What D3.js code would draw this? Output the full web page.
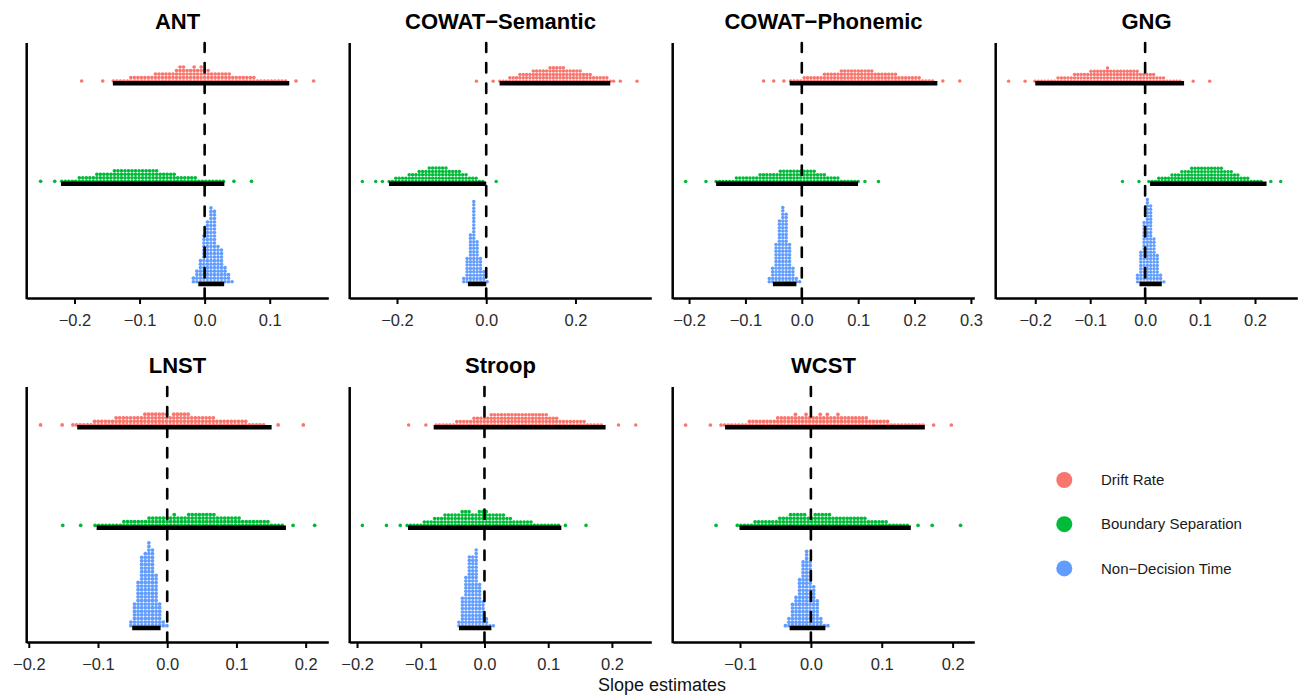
<!DOCTYPE html>
<html>
<head>
<meta charset="utf-8">
<script src="https://cdn.jsdelivr.net/npm/d3@7"></script>
<style>
  body { margin: 0; background: #fff; }
  svg { display: block; font-family: "Liberation Sans", Arial, Helvetica, sans-serif; }
</style>
</head>
<body>
<svg id="chart" width="1304" height="695"></svg>
<script>
const tasks = ["ANT", "COWAT\u2212Semantic", "COWAT\u2212Phonemic", "GNG", "LNST", "Stroop", "WCST"];
const params = ["Drift Rate", "Boundary Separation", "Non\u2212Decision Time"];
const paramColors = ["#F8766D", "#00BA38", "#619CFF"];

// x limits of each panel (free scales) and tick values
const xLimits = [[-0.2734, 0.190], [-0.306, 0.370], [-0.229, 0.306], [-0.272, 0.277],
                 [-0.203, 0.2327], [-0.2115, 0.2618], [-0.195, 0.2306]];
const xTicks = [[-0.2, -0.1, 0, 0.1], [-0.2, 0, 0.2], [-0.2, -0.1, 0, 0.1, 0.2, 0.3], [-0.2, -0.1, 0, 0.1, 0.2],
                [-0.2, -0.1, 0, 0.1, 0.2], [-0.2, -0.1, 0, 0.1, 0.2], [-0.1, 0, 0.1, 0.2]];

// dotplot binwidth per panel
const binWidths = [0.0054, 0.0075, 0.006, 0.006, 0.0052, 0.0054, 0.005];

// centre of first bin + dot counts per consecutive bin
const driftStart = [-0.189, -0.022, -0.0678, -0.2485, -0.183, -0.119, -0.1768];
const driftCounts = [
  [1,0,0,0,0,0,1,0,0,1,1,1,1,1,2,2,2,2,2,2,2,3,3,3,3,3,3,4,5,5,4,4,5,4,5,4,4,3,3,3,3,3,3,2,2,2,2,2,2,2,1,1,1,1,1,1,1,1,1,0,0,1,0,0,0,0,1],
  [1,0,0,0,0,1,0,1,1,1,2,2,2,3,3,3,3,4,4,4,4,4,5,5,5,5,5,4,4,4,4,4,3,3,3,2,2,2,2,2,1,1,0,1,0,0,0,0,1],
  [1,0,0,1,0,0,1,0,1,1,1,1,2,2,2,2,2,2,3,3,3,3,3,4,4,4,4,4,4,4,4,4,4,3,3,3,3,3,3,3,2,2,2,2,2,2,2,1,1,1,1,0,0,1,0,0,0,0,1],
  [1,0,0,0,0,1,0,0,1,1,1,1,1,1,1,2,2,2,2,2,3,3,3,3,3,4,4,4,4,4,5,4,4,4,4,4,4,4,4,4,3,3,3,3,3,2,2,2,1,1,1,1,1,0,0,0,1,0,0,0,0,1],
  [1,0,0,0,0,0,1,0,0,1,1,1,1,1,1,2,2,2,2,2,2,3,3,3,3,3,3,3,3,4,4,4,4,4,4,4,3,4,4,4,4,4,3,3,3,3,3,3,3,2,2,2,2,2,2,2,2,2,1,1,1,1,1,0,0,0,1,0,0,0,0,0,0,1],
  [1,0,0,0,0,1,0,0,1,1,1,1,1,1,2,2,2,2,2,3,3,3,3,3,4,4,4,4,4,4,4,4,4,4,4,4,4,4,4,4,4,3,3,3,2,2,2,2,2,2,2,2,1,1,1,1,1,0,0,0,0,1,0,0,0,0,1],
  [1,0,0,0,0,0,0,1,0,0,1,1,1,1,1,1,1,1,2,2,2,2,2,2,2,2,3,3,3,3,3,4,3,3,4,3,3,3,4,3,4,3,3,4,3,3,3,3,3,3,3,3,2,2,2,2,2,2,1,1,1,1,1,1,1,1,1,1,0,0,1,0,0,0,0,1]
];
const boundaryStart = [-0.252, -0.2777, -0.206, -0.0412, -0.151, -0.1916, -0.1338];
const boundaryCounts = [
  [1,0,0,0,1,0,1,1,1,1,1,2,2,2,2,2,3,3,3,3,3,4,4,4,4,4,4,4,4,4,4,4,4,4,3,3,3,3,3,2,2,2,2,2,2,1,1,1,1,1,1,1,1,0,0,1,0,0,0,0,1],
  [1,0,0,0,1,0,1,0,1,1,2,2,2,2,3,3,3,4,4,4,5,5,5,5,5,5,4,4,4,4,3,3,2,2,2,1,1,0,0,0,1],
  [1,0,0,0,0,0,1,0,0,1,1,1,1,1,1,2,2,2,2,2,2,2,3,3,3,3,3,3,4,4,4,4,4,4,4,4,4,4,4,3,3,3,2,2,2,2,1,1,1,1,1,1,0,1,0,0,0,1],
  [1,0,0,0,0,1,0,0,1,1,1,2,2,2,2,3,3,3,4,4,4,5,5,5,5,5,5,5,5,5,5,4,4,4,3,3,2,2,2,1,1,1,1,0,0,1,0,0,1],
  [1,0,0,0,0,1,0,0,0,1,1,1,1,1,1,1,1,2,2,2,2,2,2,2,3,3,3,3,3,3,3,4,3,3,3,4,4,4,4,4,4,4,4,3,3,3,3,3,3,3,2,2,2,2,2,2,2,2,1,1,1,1,0,0,1,0,0,0,0,0,1],
  [1,0,0,0,0,0,0,1,0,0,0,1,0,1,1,1,1,1,2,2,2,3,3,3,4,4,4,4,4,5,5,5,4,4,5,5,5,4,4,4,4,4,3,3,2,2,2,2,2,2,1,1,1,1,1,1,1,1,0,1,0,0,0,0,0,1],
  [1,0,0,0,0,0,1,1,1,1,1,2,2,2,2,2,2,2,3,3,3,4,4,4,4,4,3,3,4,4,4,4,4,3,3,3,3,3,3,3,3,3,3,2,2,2,2,2,2,1,1,1,1,1,1,0,0,1,0,0,0,1,0,0,0,0,0,0,0,1]
];
const ndtStart = [-0.0173, -0.0504, -0.0577, -0.0139, -0.0525, -0.040, -0.036];
const ndtCounts = [
  [2,4,7,14,18,22,21,11,10,5,3,1],
  [2,8,15,25,13,8,4,1],
  [2,5,12,19,23,21,12,5,2,1],
  [3,10,19,26,24,14,9,3,1],
  [2,7,13,20,21,24,22,15,7,2,1],
  [2,9,15,21,21,23,13,8,3,1,1],
  [1,3,7,9,14,19,22,19,12,8,3,1,1]
];

// black interval bars
const driftCI = [[-0.141, 0.130], [0.030, 0.278], [-0.0215, 0.2405], [-0.2, 0.0709], [-0.130, 0.1508], [-0.0797, 0.1901], [-0.1211, 0.1608]];
const boundaryCI = [[-0.2207, 0.0303], [-0.218, 0.0], [-0.152, 0.0997], [0.009, 0.221], [-0.102, 0.1715], [-0.12, 0.1206], [-0.1008, 0.141]];
const ndtCI = [[-0.0097, 0.030], [-0.041, 0.0], [-0.0512, -0.0096], [-0.0103, 0.0303], [-0.0506, -0.0096], [-0.040, 0.0108], [-0.030, 0.0205]];

const starts = [driftStart, boundaryStart, ndtStart];
const counts = [driftCounts, boundaryCounts, ndtCounts];
const intervals = [driftCI, boundaryCI, ndtCI];

const svg = d3.select("#chart");
const panelW = 301.6, panelH = 255;
const fmt = d3.format(".1f");

tasks.forEach((task, i) => {
    const col = i % 4, row = Math.floor(i / 4);
    const left = 26.7 + col * 323;
    const top = row === 0 ? 43 : 387;
    const bottom = top + panelH;

    const x = d3.scaleLinear().domain(xLimits[i]).range([left, left + panelW]);
    const y = d3.scalePoint().domain(params).range([top + 40.3, top + 241]);
    const g = svg.append("g");

    const bw = binWidths[i];
    const step = x(bw) - x(0);

    params.forEach((p, j) => {
        const dots = [];
        counts[j][i].forEach((n, k) => {
            for (let s = 0; s < n; s++) dots.push({ v: starts[j][i] + k * bw, s });
        });
        g.append("g").selectAll("circle")
            .data(dots)
            .join("circle")
            .attr("cx", d => x(d.v))
            .attr("cy", d => y(p) - step * (d.s + 0.65))
            .attr("r", step * 0.52)
            .attr("fill", paramColors[j]);

        g.append("line")
            .attr("x1", x(intervals[j][i][0]))
            .attr("x2", x(intervals[j][i][1]))
            .attr("y1", y(p)).attr("y2", y(p))
            .attr("stroke", "#000")
            .attr("stroke-width", 4.5);
    });

    // zero reference
    g.append("line")
        .attr("x1", x(0)).attr("x2", x(0))
        .attr("y1", bottom).attr("y2", top)
        .attr("stroke", "#000")
        .attr("stroke-width", 2.6)
        .attr("stroke-linecap", "round")
        .attr("stroke-dasharray", "9.5,11");

    // axes
    const ax = g.append("g")
        .attr("transform", `translate(0,${bottom})`)
        .call(d3.axisBottom(x).tickValues(xTicks[i]).tickFormat(fmt).tickSize(6).tickSizeOuter(0).tickPadding(10));
    ax.select(".domain").attr("stroke", "#000").attr("stroke-width", 2.5);
    ax.selectAll(".tick line").attr("stroke", "#000").attr("stroke-width", 2);
    ax.selectAll(".tick text")
        .attr("fill", "#2b2b2b")
        .style("font-size", "16.5px")
        .style("font-family", "\"Liberation Sans\", Arial, sans-serif");

    g.append("line")
        .attr("x1", left).attr("x2", left)
        .attr("y1", top).attr("y2", bottom + 1.25)
        .attr("stroke", "#000")
        .attr("stroke-width", 2.5);

    g.append("text")
        .attr("x", left + panelW / 2)
        .attr("y", top - 13.7)
        .attr("text-anchor", "middle")
        .style("font-size", "22px")
        .style("font-weight", "bold")
        .text(task);
});

svg.append("text")
    .attr("x", 662)
    .attr("y", 691)
    .attr("text-anchor", "middle")
    .style("font-size", "18px")
    .attr("fill", "#111")
    .text("Slope estimates");

const legend = svg.append("g");
params.forEach((p, j) => {
    const cy = 480 + j * 44.2;
    legend.append("circle")
        .attr("cx", 1064.3).attr("cy", cy).attr("r", 8)
        .attr("fill", paramColors[j]);
    legend.append("text")
        .attr("x", 1101).attr("y", cy)
        .attr("dy", "0.35em")
        .style("font-size", "15px")
        .attr("fill", "#1a1a1a")
        .text(p);
});
</script>
</body>
</html>
